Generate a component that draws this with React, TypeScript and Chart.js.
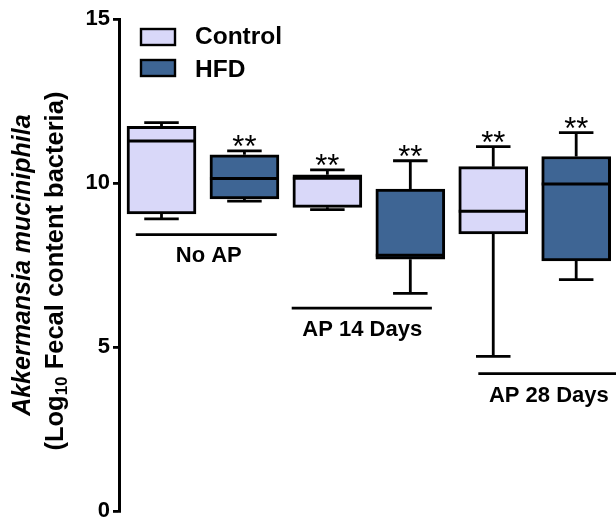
import { useEffect, useRef } from 'react';
import { Chart, registerables } from 'chart.js';

Chart.register(...registerables);

// ---- data ----
const seriesNames = ['Control', 'HFD'];
const groupLabels = ['No AP', 'AP 14 Days', 'AP 28 Days'];
const controlPositions = [0, 2, 4];
const hfdPositions = [1, 3, 5];

const controlMin = [8.91, 9.19, 4.72];
const controlQ1 = [9.06, 9.26, 8.45];
const controlMedian = [11.28, 10.15, 9.14];
const controlQ3 = [11.73, 10.25, 10.5];
const controlMax = [11.84, 10.4, 11.11];
const controlStars = ['', '**', '**'];

const hfdMin = [9.45, 6.64, 7.06];
const hfdQ1 = [9.52, 7.68, 7.63];
const hfdMedian = [10.14, 7.8, 9.97];
const hfdQ3 = [10.86, 9.82, 10.81];
const hfdMax = [10.98, 10.68, 11.54];
const hfdStars = ['**', '**', '**'];

const groupLineStart = [-0.31, 1.57, 3.82];
const groupLineEnd = [1.39, 3.26, 5.48];
const groupLineLevel = [8.43, 6.19, 4.19];
const groupLabelCenter = [0.57, 2.42, 4.67];
const groupLabelLevel = [7.77, 5.53, 3.51];

const yTicks = [0, 5, 10, 15];
const yTitleLine1 = 'Akkermansia muciniphila';
const yTitleLine2 = ['(Log', '10', ' Fecal content bacteria)'];

const FONT = "'Liberation Sans', Arial, Helvetica, sans-serif";
const CONTROL_COLOR = '#d9d8f9';
const HFD_COLOR = '#3e6594';

const boxPlugin = {
  id: 'boxExtras',
  afterDatasetsDraw(chart: any) {
    const ctx = chart.ctx;
    const y = chart.scales.y;
    const x = chart.scales.x;
    ctx.save();
    ctx.strokeStyle = '#000';
    ctx.fillStyle = '#000';
    ctx.lineCap = 'butt';
    chart.data.datasets.forEach((ds: any, di: number) => {
      const meta = chart.getDatasetMeta(di);
      const st = ds.boxStats;
      meta.data.forEach((bar: any, i: number) => {
        const cx = bar.x;
        const w = bar.width;
        const pMin = y.getPixelForValue(st.min[i]);
        const pQ1 = y.getPixelForValue(st.q1[i]);
        const pMed = y.getPixelForValue(st.median[i]);
        const pQ3 = y.getPixelForValue(st.q3[i]);
        const pMax = y.getPixelForValue(st.max[i]);
        ctx.lineWidth = 2.8;
        ctx.beginPath();
        ctx.moveTo(cx, pQ3);
        ctx.lineTo(cx, pMax);
        ctx.moveTo(cx - w / 4, pMax);
        ctx.lineTo(cx + w / 4, pMax);
        ctx.moveTo(cx, pQ1);
        ctx.lineTo(cx, pMin);
        ctx.moveTo(cx - w / 4, pMin);
        ctx.lineTo(cx + w / 4, pMin);
        ctx.stroke();
        ctx.lineWidth = 3;
        ctx.beginPath();
        ctx.moveTo(cx - w / 2, pMed);
        ctx.lineTo(cx + w / 2, pMed);
        ctx.stroke();
        const s = st.stars[i];
        if (s) {
          ctx.font = `normal 31px ${FONT}`;
          ctx.textAlign = 'center';
          ctx.textBaseline = 'alphabetic';
          ctx.fillText(s, cx, pMax + 6);
        }
      });
    });

    // group brackets
    ctx.lineWidth = 2.8;
    groupLabels.forEach((label, g) => {
      const py = y.getPixelForValue(groupLineLevel[g]);
      ctx.beginPath();
      ctx.moveTo(x.getPixelForValue(groupLineStart[g]), py);
      ctx.lineTo(x.getPixelForValue(groupLineEnd[g]), py);
      ctx.stroke();
      ctx.font = `bold 22px ${FONT}`;
      ctx.textAlign = 'center';
      ctx.textBaseline = 'middle';
      ctx.fillText(label, x.getPixelForValue(groupLabelCenter[g]), y.getPixelForValue(groupLabelLevel[g]));
    });
    ctx.restore();
  },
  afterDraw(chart: any) {
    const ctx = chart.ctx;
    const area = chart.chartArea;
    ctx.save();
    // legend
    const colors = [CONTROL_COLOR, HFD_COLOR];
    const boxTops = [29, 60];
    const textMids = [37.5, 70];
    seriesNames.forEach((name, i) => {
      const top = boxTops[i];
      ctx.fillStyle = colors[i];
      ctx.fillRect(141, top, 34, 16);
      ctx.lineWidth = 2.4;
      ctx.strokeStyle = '#000';
      ctx.strokeRect(141, top, 34, 16);
      ctx.fillStyle = '#000';
      ctx.font = `bold 24.5px ${FONT}`;
      ctx.textAlign = 'left';
      ctx.textBaseline = 'middle';
      ctx.fillText(name, 195, textMids[i]);
    });
    // y title
    const cy = (area.top + area.bottom) / 2;
    ctx.translate(0, cy);
    ctx.rotate(-Math.PI / 2);
    ctx.fillStyle = '#000';
    ctx.textBaseline = 'middle';
    ctx.textAlign = 'center';
    ctx.font = `italic bold 25px ${FONT}`;
    ctx.fillText(yTitleLine1, 0, 23);
    const big = `bold 25.5px ${FONT}`;
    const small = `bold 17px ${FONT}`;
    ctx.font = big;
    const w0 = ctx.measureText(yTitleLine2[0]).width;
    const w2 = ctx.measureText(yTitleLine2[2]).width;
    ctx.font = small;
    const w1 = ctx.measureText(yTitleLine2[1]).width;
    let sx = -(w0 + w1 + w2) / 2 - 6;
    ctx.textAlign = 'left';
    ctx.font = big;
    ctx.fillText(yTitleLine2[0], sx, 56);
    sx += w0;
    ctx.font = small;
    ctx.fillText(yTitleLine2[1], sx, 62);
    sx += w1;
    ctx.font = big;
    ctx.fillText(yTitleLine2[2], sx, 56);
    ctx.restore();
  },
};

export default function App() {
  const ref = useRef<HTMLCanvasElement | null>(null);
  useEffect(() => {
    if (!ref.current) return;
    const makeSet = (
      label: string,
      color: string,
      pos: number[],
      mn: number[],
      q1: number[],
      med: number[],
      q3: number[],
      mx: number[],
      stars: string[]
    ) => ({
      label,
      data: pos.map((p, i) => ({ x: p, y: [q1[i], q3[i]] })),
      backgroundColor: color,
      borderColor: '#000',
      borderWidth: 3,
      borderSkipped: false,
      barThickness: 69,
      grouped: false,
      boxStats: { min: mn, q1, median: med, q3, max: mx, stars },
    });
    const chart = new Chart(ref.current, {
      type: 'bar',
      data: {
        datasets: [
          makeSet(seriesNames[0], CONTROL_COLOR, controlPositions, controlMin, controlQ1, controlMedian, controlQ3, controlMax, controlStars),
          makeSet(seriesNames[1], HFD_COLOR, hfdPositions, hfdMin, hfdQ1, hfdMedian, hfdQ3, hfdMax, hfdStars),
        ] as any,
      },
      options: {
        animation: false,
        responsive: false,
        devicePixelRatio: 1,
        layout: { padding: { top: 19, bottom: 9, left: 0, right: 0 } },
        plugins: { legend: { display: false }, tooltip: { enabled: false } },
        scales: {
          x: { type: 'linear', display: false, offset: false, grid: { offset: false }, min: -0.5124, max: 5.48 },
          y: {
            min: 0,
            max: 15,
            afterBuildTicks: (s: any) => {
              s.ticks = yTicks.map((v) => ({ value: v }));
            },
            afterFit: (s: any) => {
              s.width = 119;
            },
            grid: { drawOnChartArea: false, drawTicks: true, tickLength: 6, color: '#000', lineWidth: 2.8 },
            border: { display: true, color: '#000', width: 3 },
            ticks: {
              color: '#000',
              padding: 3,
              font: { family: FONT, size: 22, weight: 'bold', lineHeight: 0.8 },
            },
          },
        },
      } as any,
      plugins: [boxPlugin],
    });
    return () => chart.destroy();
  }, []);
  return (
    <div style={{ position: 'absolute', left: 0, top: 0, width: 616, height: 523, background: '#fff' }}>
      <canvas ref={ref} width={616} height={523} style={{ display: 'block' }} />
    </div>
  );
}
